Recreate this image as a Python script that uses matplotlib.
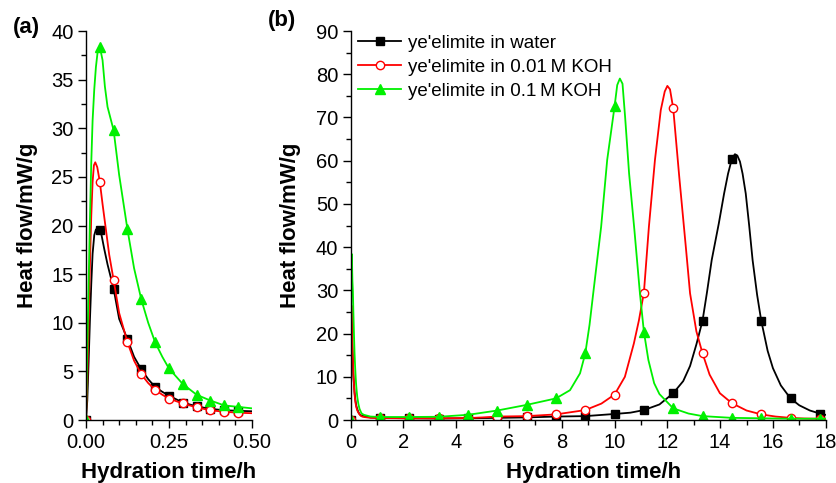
import numpy as np
import matplotlib
matplotlib.use("Agg")
import matplotlib.pyplot as plt
from matplotlib.ticker import MultipleLocator, FormatStrFormatter

plt.rcParams['font.family'] = ['Liberation Sans', 'DejaVu Sans']

# heat flow curves (mW/g) vs hydration time (h)
t_water = [0, 0.004, 0.008, 0.012, 0.016, 0.02, 0.025, 0.03, 0.035, 0.0417, 0.047,
           0.055, 0.065, 0.0833, 0.1, 0.125, 0.145, 0.1667, 0.1875, 0.2083, 0.23, 0.25,
           0.2917, 0.3333, 0.375, 0.4167, 0.4583, 0.5, 0.75, 1.111, 2.222, 3.333, 4.444,
           5.556, 6.667, 7.778, 8.889, 10.0, 10.6, 11.111, 11.7, 12.222, 12.6, 12.86,
           13.1, 13.333, 13.5, 13.68, 13.95, 14.15, 14.3, 14.444, 14.56, 14.65, 14.75,
           14.85, 14.97, 15.1, 15.23, 15.4, 15.556, 15.8, 16.0, 16.3, 16.667, 17.0, 17.4,
           17.778, 18.0]
hf_water = [0, 2.0, 6.0, 10.3, 14.0, 17.1, 19.0, 19.6, 19.6, 19.5, 19.0,
            17.6, 16.0, 13.5, 10.4, 8.3, 6.5, 5.2, 4.2, 3.4, 2.9, 2.5,
            1.8, 1.4, 1.15, 1.0, 0.95, 0.9, 0.6, 0.5, 0.4, 0.35, 0.4,
            0.5, 0.6, 0.8, 0.9, 1.4, 1.7, 2.3, 3.6, 6.2, 9.0, 12.5,
            17.5, 23.0, 29.5, 37.0, 45.5, 52.4, 57.0, 60.4, 61.5, 61.2, 59.8,
            57.0, 52.4, 45.0, 37.0, 29.0, 23.0, 16.0, 12.0, 8.0, 5.0, 3.4, 2.2,
            1.5, 1.2]

t_koh001 = [0, 0.004, 0.008, 0.012, 0.016, 0.02, 0.024, 0.028, 0.034, 0.0417, 0.05,
            0.06, 0.07, 0.0833, 0.1, 0.125, 0.145, 0.1667, 0.1875, 0.2083, 0.23, 0.25,
            0.2917, 0.3333, 0.375, 0.4167, 0.4583, 0.5, 0.75, 1.111, 2.222, 3.333, 4.444,
            5.0, 5.556, 6.667, 7.778, 8.889, 9.5, 10.0, 10.39, 10.73, 10.92, 11.111, 11.3,
            11.53, 11.75, 11.9, 12.0, 12.1, 12.222, 12.45, 12.7, 12.86, 13.1, 13.333, 13.6,
            13.99, 14.444, 15.0, 15.556, 16.1, 16.667, 17.2, 17.778, 18.0]
hf_koh001 = [0, 4.0, 10.0, 16.0, 21.0, 24.5, 26.2, 26.5, 26.0, 24.5, 22.2,
             19.6, 17.0, 14.4, 11.0, 8.0, 6.1, 4.7, 3.8, 3.1, 2.6, 2.2,
             1.7, 1.3, 1.0, 0.85, 0.75, 0.7, 0.5, 0.45, 0.4, 0.4, 0.45,
             0.6, 0.8, 0.9, 1.3, 2.3, 3.8, 5.9, 10.0, 17.7, 23.0, 29.5, 44.7,
             60.2, 71.7, 76.0, 77.3, 76.5, 72.1, 56.3, 40.0, 29.3, 20.5, 15.4, 10.5,
             6.2, 3.9, 2.2, 1.3, 0.8, 0.5, 0.35, 0.3, 0.3]

t_koh01 = [0, 0.004, 0.008, 0.012, 0.016, 0.02, 0.025, 0.03, 0.035, 0.0417, 0.05,
           0.057, 0.065, 0.0833, 0.1, 0.125, 0.145, 0.1667, 0.1875, 0.2083, 0.23, 0.25,
           0.2917, 0.3333, 0.375, 0.4167, 0.4583, 0.5, 0.75, 1.111, 2.222, 3.333, 4.444,
           5.556, 6.667, 7.778, 8.31, 8.69, 8.889, 9.05, 9.19, 9.49, 9.72, 10.0, 10.1,
           10.2, 10.3, 10.4, 10.55, 10.75, 10.96, 11.111, 11.28, 11.5, 11.7, 12.222,
           12.8, 13.333, 14.444, 15.556, 16.667, 17.778, 18.0]
hf_koh01 = [0, 7.0, 14.0, 20.6, 26.5, 30.8, 34.0, 36.3, 37.8, 38.4, 37.0,
            34.3, 32.2, 29.8, 25.2, 19.6, 15.6, 12.4, 10.0, 8.0, 6.5, 5.3,
            3.7, 2.6, 2.0, 1.5, 1.35, 1.2, 0.8, 0.7, 0.7, 0.75, 1.2,
            2.2, 3.5, 5.0, 6.9, 10.8, 15.4, 22.0, 29.3, 44.7, 60.2, 72.6, 77.5,
            79.0, 77.8, 70.0, 57.0, 44.0, 29.3, 20.4, 13.9, 8.5, 6.0, 2.7,
            1.5, 0.9, 0.5, 0.4, 0.3, 0.3, 0.3]

# times at which symbols are drawn in each panel
marks_a = [0, 0.0417, 0.0833, 0.125, 0.1667, 0.2083, 0.25, 0.2917, 0.3333, 0.375,
           0.4167, 0.4583]
marks_b = [0, 1.111, 2.222, 3.333, 4.444, 5.556, 6.667, 7.778, 8.889, 10.0, 11.111,
           12.222, 13.333, 14.444, 15.556, 16.667, 17.778]

labels = ["ye'elimite in water", "ye'elimite in 0.01\u2009M KOH", "ye'elimite in 0.1\u2009M KOH"]
series = [(t_water, hf_water), (t_koh001, hf_koh001), (t_koh01, hf_koh01)]
styles = [dict(color='black', marker='s', mfc='black', mec='black', ms=5.5),
          dict(color='#ff0000', marker='o', mfc='white', mec='#ff0000', ms=6, mew=1.0),
          dict(color='#00f000', marker='^', mfc='#00f000', mec='#00f000', ms=7)]

fig = plt.figure(figsize=(8.37, 4.83), dpi=100)
ax_a = fig.add_axes([0.1027, 0.1304, 0.1983, 0.8054])
ax_b = fig.add_axes([0.4190, 0.1304, 0.5675, 0.8054])


def draw(ax, marks):
    for (t, hf), st, lab in zip(series, styles, labels):
        t = np.asarray(t)
        idx = np.flatnonzero(np.isin(np.round(t, 4), marks))
        ax.plot(t, hf, lw=1.3, markevery=list(idx), label=lab, **st)
    for side in ('top', 'right'):
        ax.spines[side].set_visible(False)
    for side in ('left', 'bottom'):
        ax.spines[side].set_linewidth(1.0)
    ax.tick_params(which='major', direction='out', length=6, width=1, pad=3, labelsize=14.5)
    ax.tick_params(which='minor', direction='out', length=3.6, width=1)
    ax.set_ylabel('Heat flow/mW/g', fontsize=16, fontweight='bold')
    ax.set_xlabel('Hydration time/h', fontsize=16, fontweight='bold')


draw(ax_a, marks_a)
ax_a.set_xlim(0, 0.5)
ax_a.set_ylim(0, 40)
ax_a.xaxis.set_major_locator(MultipleLocator(0.25))
ax_a.xaxis.set_minor_locator(MultipleLocator(0.05))
ax_a.xaxis.set_major_formatter(FormatStrFormatter('%.2f'))
ax_a.yaxis.set_major_locator(MultipleLocator(5))
ax_a.yaxis.set_minor_locator(MultipleLocator(2.5))
ax_a.yaxis.set_label_coords(-0.29, 0.5)
ax_a.xaxis.set_label_coords(0.5, -0.108)

draw(ax_b, marks_b)
ax_b.set_xlim(0, 18)
ax_b.set_ylim(0, 90)
ax_b.xaxis.set_major_locator(MultipleLocator(2))
ax_b.xaxis.set_minor_locator(MultipleLocator(1))
ax_b.yaxis.set_major_locator(MultipleLocator(10))
ax_b.yaxis.set_minor_locator(MultipleLocator(5))
ax_b.yaxis.set_label_coords(-0.105, 0.5)
ax_b.xaxis.set_label_coords(0.512, -0.108)
ax_b.legend(loc='upper left', bbox_to_anchor=(-0.012, 1.025), frameon=False, fontsize=13.5,
            handlelength=2.3, handletextpad=0.35, labelspacing=0.38, borderaxespad=0.3)

fig.text(13 / 837, 1 - 17 / 483, '(a)', fontsize=16, fontweight='bold', va='top', ha='left')
fig.text(268 / 837, 1 - 10 / 483, '(b)', fontsize=16, fontweight='bold', va='top', ha='left')

fig.savefig('out.png', dpi=100)
